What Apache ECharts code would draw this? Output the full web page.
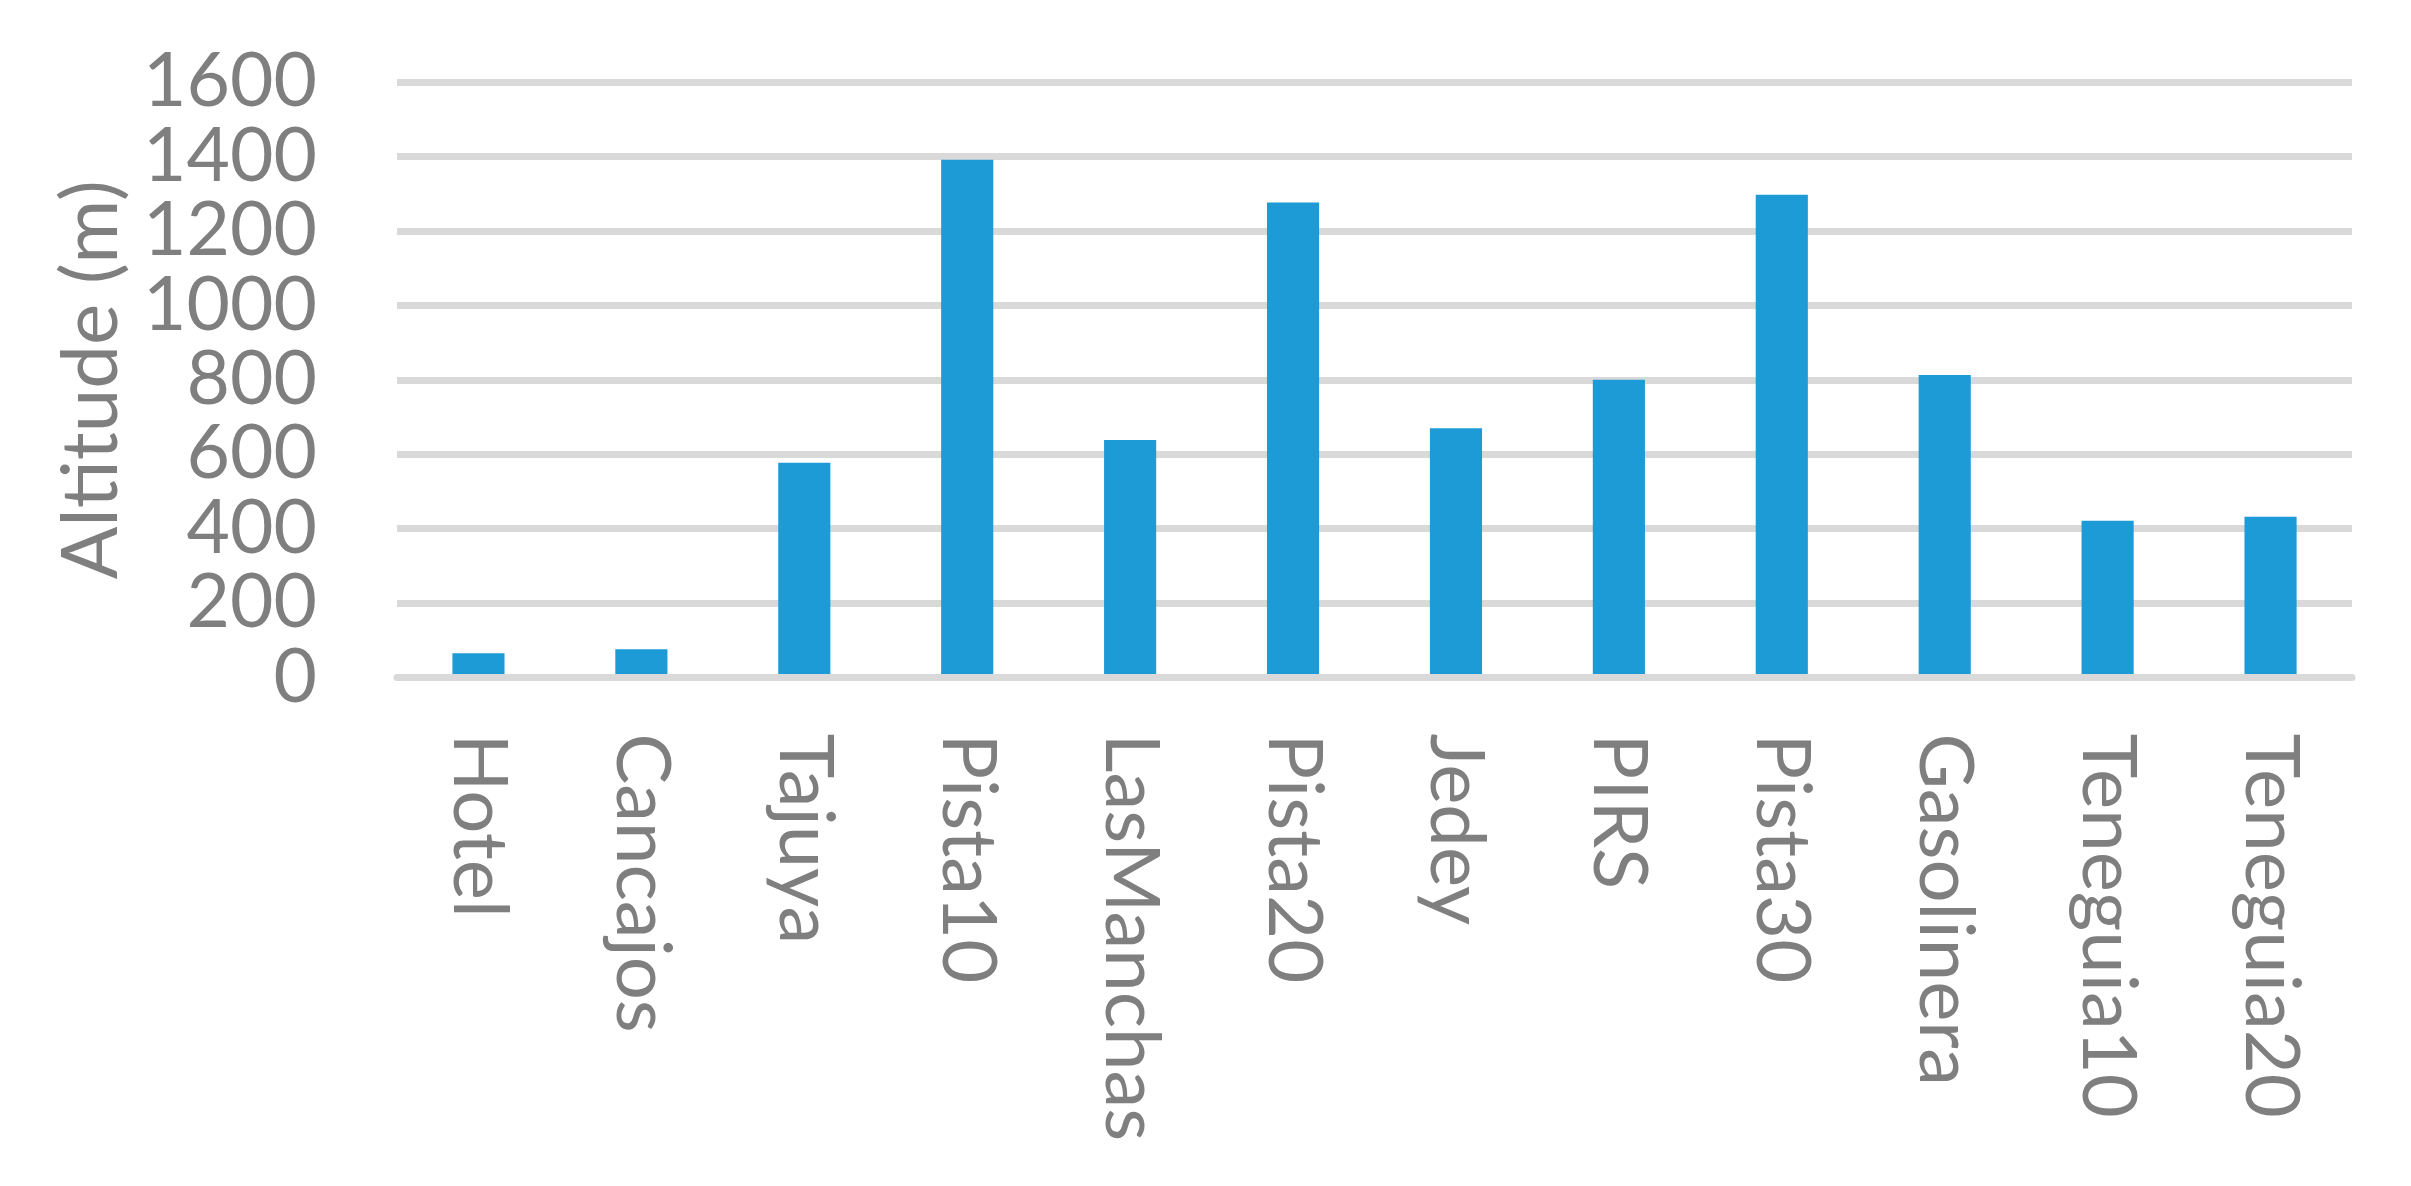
<!DOCTYPE html>
<html>
<head>
<meta charset="utf-8">
<title>Altitude</title>
<script src="https://cdn.jsdelivr.net/npm/echarts@6/dist/echarts.min.js"></script>
<style>
  html, body { margin: 0; padding: 0; background: #fff; }
  #main { width: 2411px; height: 1186px; }
</style>
</head>
<body>
<div id="main"></div>
<script>
// sites and their altitude (m)
const sites = ['Hotel', 'Cancajos', 'Tajuya', 'Pista10', 'LasManchas', 'Pista20',
  'Jedey', 'PIRS', 'Pista30', 'Gasolinera', 'Teneguia10', 'Teneguia20'];
const altitudes = [65, 76, 577, 1391, 638, 1276, 670, 800, 1297, 813, 421, 432];
const yTicks = [0, 200, 400, 600, 800, 1000, 1200, 1400, 1600];

const grey = '#7f7f7f';
const lineGrey = '#d9d9d9';
const font = 'Lato';
const yMin = yTicks[0];
const yMax = yTicks[yTicks.length - 1];

let chart = echarts.init(document.getElementById('main'), null, { renderer: 'canvas' });

let labelStyle = {
  margin: 80,
  color: grey,
  fontFamily: font,
  fontSize: 75
};

var option = {
  animation: false,
  backgroundColor: '#ffffff',
  grid: {
    left: 397,
    right: 59,
    top: 82,
    bottom: 508.5
  },
  xAxis: {
    type: 'category',
    data: sites,
    z: 5,
    axisLine: { show: true, lineStyle: { color: lineGrey, width: 7 } },
    axisTick: { show: false },
    axisLabel: {
      rotate: -90,
      margin: 56,
      color: grey,
      fontFamily: font,
      fontSize: 76,
      interval: 0
    }
  },
  yAxis: [
    {
      // inner tick labels + grid lines
      type: 'value',
      position: 'left',
      min: yMin,
      max: yMax,
      interval: yTicks[1] - yTicks[0],
      name: 'Altitude (m)',
      nameLocation: 'middle',
      nameGap: 266,
      nameTextStyle: { color: grey, fontFamily: font, fontSize: 78 },
      axisLine: { show: false },
      axisTick: { show: false },
      axisLabel: Object.assign({}, labelStyle, {
        showMinLabel: false,
        showMaxLabel: false,
        formatter: v => String(v)
      }),
      splitLine: { lineStyle: { color: lineGrey, width: 7 } }
    },
    {
      // just the 0 and 1600 labels (echarts hides their neighbours otherwise)
      type: 'value',
      position: 'left',
      min: yMin,
      max: yMax,
      interval: yTicks[1] - yTicks[0],
      axisLine: { show: false },
      axisTick: { show: false },
      splitLine: { show: false },
      axisLabel: Object.assign({}, labelStyle, {
        showMinLabel: true,
        showMaxLabel: true,
        formatter: v => (v === yMin || v === yMax) ? String(v) : ''
      })
    }
  ],
  series: [
    {
      type: 'bar',
      data: altitudes,
      barWidth: '32%',
      itemStyle: { color: '#1d9bd7' }
    }
  ]
};

chart.setOption(option);
</script>
</body>
</html>
